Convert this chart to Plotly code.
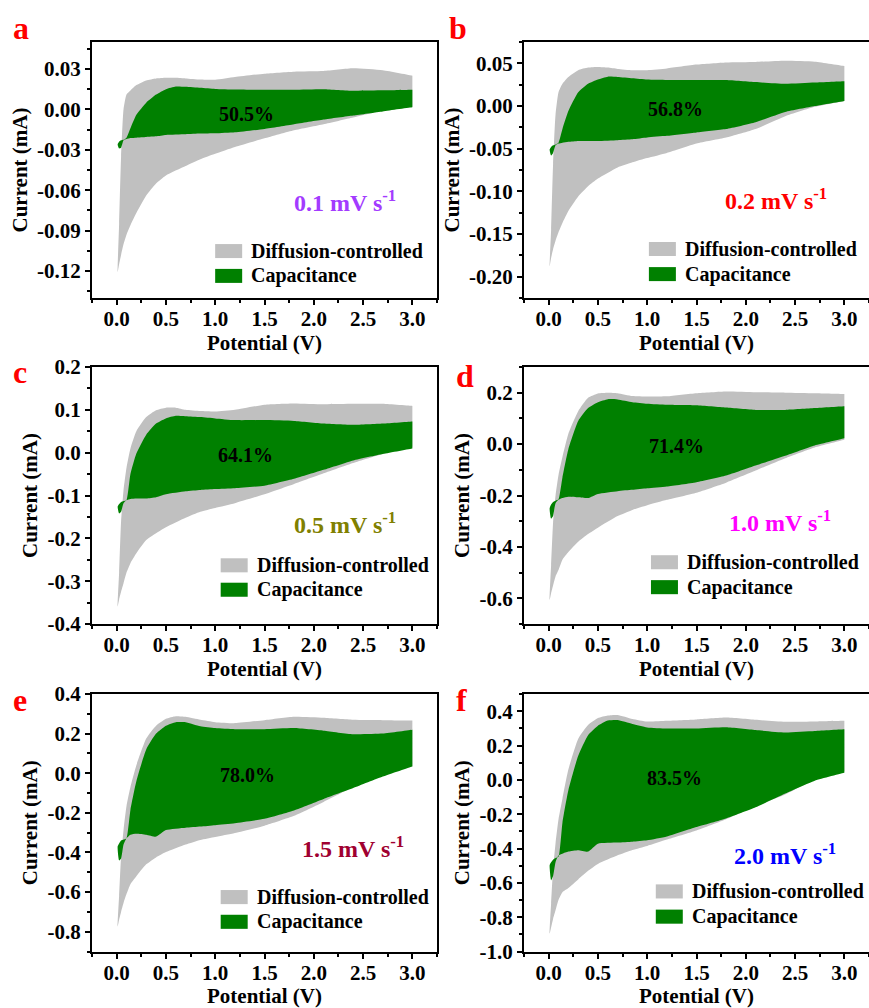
import plotly.graph_objects as go

# ---------------- data ----------------
POTENTIAL_UP = [0.01, 0.025, 0.045, 0.07, 0.1, 0.14, 0.2, 0.3, 0.4, 0.5, 0.6, 0.7,
                0.85, 1.0, 1.2, 1.5, 1.8, 2.1, 2.4, 2.7, 3.0]
POTENTIAL_DOWN = [3.0, 2.7, 2.4, 2.1, 1.8, 1.5, 1.2, 1.0, 0.85, 0.7, 0.5, 0.4,
                  0.3, 0.2, 0.14, 0.1, 0.07, 0.045, 0.025, 0.01]

PANELS = ["a", "b", "c", "d", "e", "f"]
RATES = ["0.1", "0.2", "0.5", "1.0", "1.5", "2.0"]
PERCENTS = ["50.5%", "56.8%", "64.1%", "71.4%", "78.0%", "83.5%"]

# total (diffusion-controlled + capacitive) current, anodic and cathodic branches
TOTAL_UP_A = [-0.121, -0.085, -0.035, 0.0, 0.011, 0.014, 0.018, 0.0215, 0.023, 0.0235, 0.0235, 0.023,
              0.0222, 0.022, 0.024, 0.0265, 0.028, 0.0285, 0.0305, 0.029, 0.025]
TOTAL_DN_A = [0.002, -0.001, -0.006, -0.011, -0.0155, -0.0215, -0.028, -0.033, -0.037, -0.042, -0.049, -0.055,
              -0.064, -0.077, -0.086, -0.093, -0.100, -0.108, -0.115, -0.121]
CAP_UP_A = [-0.026, -0.024, -0.023, -0.0225, -0.021, -0.014, -0.004, 0.005, 0.011, 0.015, 0.017, 0.0168,
            0.016, 0.0152, 0.0148, 0.0146, 0.0146, 0.015, 0.0138, 0.0141, 0.0146]
CAP_DN_A = [0.0015, -0.0015, -0.0045, -0.0075, -0.011, -0.0145, -0.017, -0.0178, -0.018, -0.0185, -0.019, -0.020,
            -0.0205, -0.021, -0.0213, -0.022, -0.023, -0.0285, -0.029, -0.026]

TOTAL_UP_B = [-0.188, -0.145, -0.068, -0.01, 0.016, 0.026, 0.034, 0.042, 0.045, 0.0457, 0.045, 0.0435,
              0.042, 0.042, 0.044, 0.0485, 0.051, 0.0516, 0.053, 0.052, 0.047]
TOTAL_DN_B = [0.006, -0.001, -0.012, -0.027, -0.037, -0.044, -0.055, -0.061, -0.066, -0.072, -0.085, -0.094,
              -0.106, -0.123, -0.137, -0.148, -0.158, -0.168, -0.178, -0.188]
CAP_UP_B = [-0.051, -0.048, -0.046, -0.045, -0.043, -0.027, -0.006, 0.016, 0.026, 0.031, 0.0344, 0.034,
            0.0325, 0.031, 0.0305, 0.0305, 0.0305, 0.028, 0.026, 0.0275, 0.029]
CAP_DN_B = [0.006, 0.0, -0.007, -0.019, -0.027, -0.031, -0.035, -0.037, -0.039, -0.040, -0.041, -0.041,
            -0.041, -0.042, -0.043, -0.044, -0.046, -0.055, -0.058, -0.051]

TOTAL_UP_C = [-0.36, -0.28, -0.16, -0.087, -0.035, 0.01, 0.05, 0.083, 0.099, 0.105, 0.105, 0.1,
              0.097, 0.096, 0.1, 0.112, 0.115, 0.113, 0.114, 0.114, 0.109]
TOTAL_DN_C = [0.014, -0.003, -0.024, -0.048, -0.073, -0.097, -0.118, -0.129, -0.138, -0.152, -0.174, -0.188,
              -0.204, -0.235, -0.258, -0.28, -0.305, -0.325, -0.343, -0.36]
CAP_UP_C = [-0.126, -0.12, -0.115, -0.113, -0.111, -0.05, -0.002, 0.042, 0.068, 0.08, 0.086, 0.085,
            0.083, 0.08, 0.076, 0.076, 0.074, 0.068, 0.065, 0.068, 0.073]
CAP_DN_C = [0.01, -0.003, -0.018, -0.04, -0.061, -0.077, -0.083, -0.085, -0.087, -0.09, -0.097, -0.104,
            -0.107, -0.107, -0.108, -0.111, -0.118, -0.138, -0.142, -0.126]

TOTAL_UP_D = [-0.607, -0.47, -0.305, -0.2, -0.12, -0.05, 0.04, 0.128, 0.18, 0.197, 0.2, 0.198,
              0.187, 0.185, 0.186, 0.198, 0.205, 0.202, 0.2, 0.198, 0.195]
TOTAL_DN_D = [0.017, -0.013, -0.055, -0.103, -0.15, -0.189, -0.217, -0.238, -0.256, -0.28, -0.325, -0.35,
              -0.38, -0.42, -0.45, -0.49, -0.515, -0.55, -0.58, -0.607]
CAP_UP_D = [-0.25, -0.235, -0.225, -0.22, -0.215, -0.13, -0.02, 0.09, 0.14, 0.163, 0.175, 0.174,
            0.163, 0.157, 0.153, 0.151, 0.142, 0.133, 0.133, 0.14, 0.147]
CAP_DN_D = [0.023, -0.005, -0.045, -0.083, -0.122, -0.148, -0.165, -0.172, -0.178, -0.183, -0.194, -0.21,
            -0.207, -0.205, -0.21, -0.217, -0.23, -0.28, -0.29, -0.25]

TOTAL_UP_E = [-0.775, -0.62, -0.42, -0.286, -0.165, -0.07, 0.04, 0.175, 0.24, 0.275, 0.288, 0.285,
              0.27, 0.258, 0.253, 0.268, 0.285, 0.28, 0.27, 0.268, 0.266]
TOTAL_DN_E = [0.034, -0.005, -0.07, -0.145, -0.215, -0.265, -0.302, -0.322, -0.337, -0.36, -0.398, -0.425,
              -0.46, -0.52, -0.56, -0.61, -0.655, -0.7, -0.74, -0.775]
CAP_UP_E = [-0.37, -0.355, -0.34, -0.335, -0.328, -0.185, -0.04, 0.12, 0.2, 0.24, 0.258, 0.258,
            0.237, 0.228, 0.222, 0.222, 0.228, 0.215, 0.197, 0.2, 0.219]
CAP_DN_E = [0.034, -0.017, -0.075, -0.13, -0.188, -0.23, -0.252, -0.262, -0.269, -0.275, -0.287, -0.32,
            -0.31, -0.305, -0.31, -0.328, -0.36, -0.43, -0.44, -0.37]

TOTAL_UP_F = [-0.897, -0.72, -0.52, -0.37, -0.23, -0.11, 0.06, 0.24, 0.32, 0.36, 0.375, 0.378,
              0.355, 0.34, 0.344, 0.352, 0.363, 0.35, 0.338, 0.34, 0.344]
TOTAL_DN_F = [0.05, 0.0, -0.085, -0.153, -0.23, -0.295, -0.348, -0.385, -0.409, -0.44, -0.49, -0.53,
              -0.58, -0.63, -0.655, -0.7, -0.76, -0.81, -0.86, -0.897]
CAP_UP_F = [-0.497, -0.48, -0.465, -0.455, -0.448, -0.25, -0.06, 0.14, 0.26, 0.315, 0.345, 0.348,
            0.325, 0.305, 0.299, 0.299, 0.306, 0.29, 0.276, 0.285, 0.295]
CAP_DN_F = [0.041, -0.005, -0.08, -0.16, -0.225, -0.275, -0.33, -0.352, -0.36, -0.365, -0.372, -0.418,
            -0.41, -0.418, -0.43, -0.44, -0.48, -0.56, -0.585, -0.497]

TOTAL_UP = [TOTAL_UP_A, TOTAL_UP_B, TOTAL_UP_C, TOTAL_UP_D, TOTAL_UP_E, TOTAL_UP_F]
TOTAL_DN = [TOTAL_DN_A, TOTAL_DN_B, TOTAL_DN_C, TOTAL_DN_D, TOTAL_DN_E, TOTAL_DN_F]
CAP_UP = [CAP_UP_A, CAP_UP_B, CAP_UP_C, CAP_UP_D, CAP_UP_E, CAP_UP_F]
CAP_DN = [CAP_DN_A, CAP_DN_B, CAP_DN_C, CAP_DN_D, CAP_DN_E, CAP_DN_F]

X_TICKS = [0.0, 0.5, 1.0, 1.5, 2.0, 2.5, 3.0]
Y_TICKS = [
    [-0.12, -0.09, -0.06, -0.03, 0.0, 0.03],
    [-0.20, -0.15, -0.10, -0.05, 0.0, 0.05],
    [-0.4, -0.3, -0.2, -0.1, 0.0, 0.1, 0.2],
    [-0.6, -0.4, -0.2, 0.0, 0.2],
    [-0.8, -0.6, -0.4, -0.2, 0.0, 0.2, 0.4],
    [-1.0, -0.8, -0.6, -0.4, -0.2, 0.0, 0.2, 0.4],
]
Y_DECIMALS = [2, 2, 1, 1, 1, 1]
Y_RANGES = [[-0.14, 0.05], [-0.225, 0.075], [-0.4, 0.2], [-0.7, 0.3], [-0.9, 0.4], [-1.0, 0.5]]
Y_MINOR = [0.015, 0.025, 0.05, 0.1, 0.1, 0.1]

# ---------------- styling / layout ----------------
W, H = 869, 1008
FONT = "Times New Roman, Liberation Serif, serif"
GRAY = "#C0C0C0"
GREEN = "#008000"
RATE_COLORS = ["#A33BFF", "#FF0000", "#808000", "#FF00FF", "#A00030", "#0000FF"]

COL_PX = [(92, 437), (524, 869)]
ROW_PX = [(42, 298), (367, 624), (694, 951.5)]

PCT_POS = [(1.315, -0.0035), (1.29, -0.003), (1.31, -0.0055), (1.297, -0.009), (1.325, -0.008), (1.28, 0.012)]
RATE_POS = [(2.32, -0.068), (2.31, -0.109), (2.32, -0.164), (2.35, -0.30), (2.4, -0.37), (2.4, -0.434)]
# legend swatch (x0 frac, gray y0 frac, green y0 frac) in axis-domain units
LEG_POS = [(0.357, 0.156, 0.059), (0.362, 0.164, 0.066), (0.373, 0.201, 0.106),
           (0.368, 0.213, 0.116), (0.373, 0.184, 0.088), (0.382, 0.206, 0.108)]
LETTER_PX = [(21, 28), (458, 28), (20, 372), (465, 376), (20, 700), (462, 700)]


def loop(up, dn):
    """Closed CV loop; the vertex at the 3.0 V turn is repeated so it stays a sharp corner."""
    xs = POTENTIAL_UP + [POTENTIAL_UP[-1]] + [POTENTIAL_DOWN[0]] + POTENTIAL_DOWN
    ys = up + [up[-1]] + [dn[0]] + dn
    return xs, ys


fig = go.Figure()
layout = dict(width=W, height=H, autosize=False, margin=dict(l=0, r=0, t=0, b=0, autoexpand=False),
              paper_bgcolor="white", plot_bgcolor="white", showlegend=False,
              font=dict(family=FONT, color="black"))
annotations = []
shapes = []


def fmt(v, d):
    return f"{v:.{d}f}"


for i in range(6):
    r, c = divmod(i, 2)
    n = i + 1
    xa = "x" if n == 1 else f"x{n}"
    ya = "y" if n == 1 else f"y{n}"
    xk = "xaxis" if n == 1 else f"xaxis{n}"
    yk = "yaxis" if n == 1 else f"yaxis{n}"
    x0p, x1p = COL_PX[c]
    y0p, y1p = ROW_PX[r]
    xdom = [x0p / W, min(x1p / W, 1.0)]
    ydom = [1 - y1p / H, 1 - y0p / H]

    gx, gy = loop(TOTAL_UP[i], TOTAL_DN[i])
    cx, cy = loop(CAP_UP[i], CAP_DN[i])
    fig.add_trace(go.Scatter(x=gx, y=gy, fill="toself", fillcolor=GRAY, mode="lines",
                             line=dict(width=0, color=GRAY, shape="spline", smoothing=0.5,
                                       simplify=False),
                             xaxis=xa, yaxis=ya,
                             name="Diffusion-controlled", hoverinfo="skip"))
    fig.add_trace(go.Scatter(x=cx, y=cy, fill="toself", fillcolor=GREEN, mode="lines",
                             line=dict(width=0, color=GREEN, shape="spline", smoothing=0.5,
                                       simplify=False),
                             xaxis=xa, yaxis=ya,
                             name="Capacitance", hoverinfo="skip"))

    tickfont = dict(family=FONT, size=21, color="black", weight="bold")
    titlefont = dict(family=FONT, size=21, color="black", weight="bold")
    layout[xk] = dict(domain=xdom, range=[-0.25, 3.25], anchor=ya, automargin=False,
                      tickmode="array", tickvals=X_TICKS, ticktext=[fmt(v, 1) for v in X_TICKS],
                      ticks="outside", ticklen=5, tickwidth=2, tickcolor="black",
                      ticklabelstandoff=-4,
                      minor=dict(ticks="outside", ticklen=3, tickwidth=1.5, tickcolor="black",
                                 tickmode="linear", tick0=0, dtick=0.25),
                      showline=True, linewidth=2, linecolor="black", mirror=True,
                      showgrid=False, zeroline=False, tickfont=tickfont,
                      title=dict(text="Potential (V)", font=titlefont, standoff=4))
    layout[yk] = dict(domain=ydom, range=Y_RANGES[i], anchor=xa, automargin=False,
                      tickmode="array", tickvals=Y_TICKS[i],
                      ticktext=[fmt(v, Y_DECIMALS[i]) for v in Y_TICKS[i]],
                      ticks="outside", ticklen=5, tickwidth=2, tickcolor="black",
                      minor=dict(ticks="outside", ticklen=3, tickwidth=1.5, tickcolor="black",
                                 tickmode="linear", tick0=0, dtick=Y_MINOR[i]),
                      showline=True, linewidth=2, linecolor="black", mirror=True,
                      showgrid=False, zeroline=False, tickfont=tickfont,
                      title=dict(text="Current (mA)", font=titlefont, standoff=4))

    # percentage label
    annotations.append(dict(x=PCT_POS[i][0], y=PCT_POS[i][1], xref=xa, yref=ya,
                            text=f"<b>{PERCENTS[i]}</b>", showarrow=False,
                            font=dict(family=FONT, size=20, color="black")))
    # scan-rate label
    annotations.append(dict(x=RATE_POS[i][0], y=RATE_POS[i][1], xref=xa, yref=ya,
                            text=f"<b>{RATES[i]} mV s<sup>-1</sup></b>", showarrow=False,
                            font=dict(family=FONT, size=24, color=RATE_COLORS[i])))
    # legend
    lx, lyg, lyc = LEG_POS[i]
    sw_w = 27 / 345
    sw_h = 14 / 256
    for yy, col, label in [(lyg, GRAY, "Diffusion-controlled"), (lyc, GREEN, "Capacitance")]:
        shapes.append(dict(type="rect", xref=f"{xa} domain", yref=f"{ya} domain",
                           x0=lx, x1=lx + sw_w, y0=yy, y1=yy + sw_h,
                           fillcolor=col, line=dict(width=0)))
        annotations.append(dict(x=lx + sw_w + 0.02, y=yy + sw_h / 2,
                                xref=f"{xa} domain", yref=f"{ya} domain",
                                text=f"<b>{label}</b>", showarrow=False,
                                xanchor="left", yanchor="middle",
                                font=dict(family=FONT, size=20, color="black")))
    # panel letter
    lpx, lpy = LETTER_PX[i]
    annotations.append(dict(x=lpx / W, y=1 - lpy / H, xref="paper", yref="paper",
                            text=f"<b>{PANELS[i]}</b>", showarrow=False,
                            xanchor="center", yanchor="middle",
                            font=dict(family=FONT, size=32, color="#FF0000")))

layout["annotations"] = annotations
layout["shapes"] = shapes
fig.update_layout(**layout)
fig.write_html("out.html", config={"displayModeBar": False},
               post_script="document.body.style.margin='0';document.body.style.overflow='hidden';")
